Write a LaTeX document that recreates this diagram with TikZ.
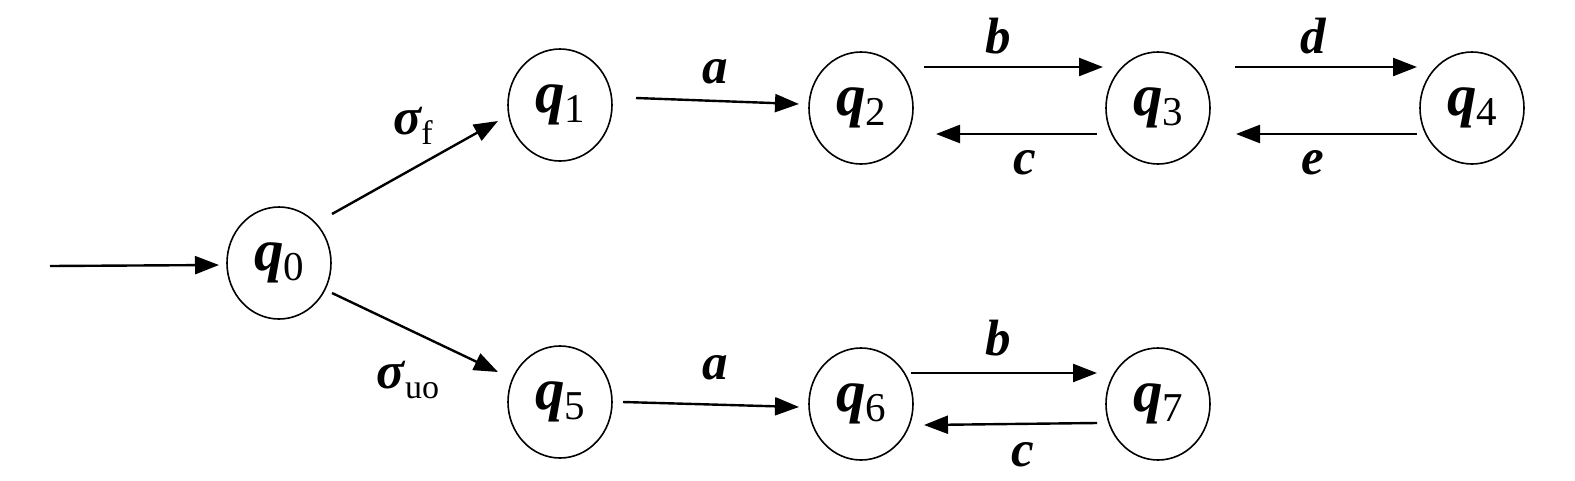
\documentclass[tikz,border=0pt]{standalone}
\usepackage{fontspec}
\setmainfont{Liberation Serif}
\usetikzlibrary{arrows.meta,calc,shapes.geometric}
\tikzset{
 state/.style={ellipse, draw, line width=1.6pt, minimum width=104pt, minimum height=112pt, inner sep=0pt},
 arr/.style={line width=2.4pt, -{Triangle[length=24pt,width=18pt]}},
 lbl/.style={font=\fontsize{51}{55}\selectfont\bfseries\itshape, inner sep=0pt},
}
\newcommand{\qlab}[1]{{\fontsize{59}{62}\selectfont\bfseries\itshape q}\raisebox{-10pt}{\fontsize{41}{44}\selectfont #1}}
\newcommand{\siglab}[1]{{\fontsize{52}{56}\selectfont\bfseries\itshape σ}\raisebox{-10pt}{\fontsize{34}{37}\selectfont #1}}
\begin{document}
\begin{tikzpicture}[x=1pt,y=-1pt]
\useasboundingbox (0,0) rectangle (1575,480);
\node[state] (q0) at (279,263) {\qlab{0}};
\node[state] (q1) at (560,105) {\qlab{1}};
\node[state] (q2) at (861,108) {\qlab{2}};
\node[state] (q3) at (1158,108) {\qlab{3}};
\node[state] (q4) at (1472,108) {\qlab{4}};
\node[state] (q5) at (560,402) {\qlab{5}};
\node[state] (q6) at (861,404) {\qlab{6}};
\node[state] (q7) at (1158,404) {\qlab{7}};
\coordinate (init) at (50,266);
\draw[arr] (init) -- ($(q0.center)+(-60,2)$);
\draw[arr] ($(q0.center)+(53,-49)$) -- ($(q1.center)+(-62,16)$);
\draw[arr] ($(q0.center)+(53,30)$) -- ($(q5.center)+(-62,-30)$);
\draw[arr] ($(q1.center)+(76,-7)$) -- ($(q2.center)+(-62,-4)$);
\draw[arr] ($(q2.center)+(63,-41)$) -- ($(q3.center)+(-55,-41)$);
\draw[arr] ($(q3.center)+(-61,26)$) -- ($(q2.center)+(75,26)$);
\draw[arr] ($(q3.center)+(77,-41)$) -- ($(q4.center)+(-55,-41)$);
\draw[arr] ($(q4.center)+(-55,26)$) -- ($(q3.center)+(78,26)$);
\draw[arr] ($(q5.center)+(63,0)$) -- ($(q6.center)+(-62,3)$);
\draw[arr] ($(q6.center)+(50,-31)$) -- ($(q7.center)+(-61,-31)$);
\draw[arr] ($(q7.center)+(-61,19)$) -- ($(q6.center)+(63,21)$);
\node[inner sep=0pt] (sf) at (413,126) {\siglab{f}};
\node[inner sep=0pt] (suo) at (408,380) {\siglab{uo}};
\node[lbl] (la1) at (715,72) {a};
\node[lbl] (lb1) at (998,36) {b};
\node[lbl] (lc1) at (1025,163) {c};
\node[lbl] (ld) at (1313,36) {d};
\node[lbl] (le) at (1313,163) {e};
\node[lbl] (la2) at (715,368) {a};
\node[lbl] (lb2) at (998,338) {b};
\node[lbl] (lc2) at (1023,455) {c};
\end{tikzpicture}
\end{document}
